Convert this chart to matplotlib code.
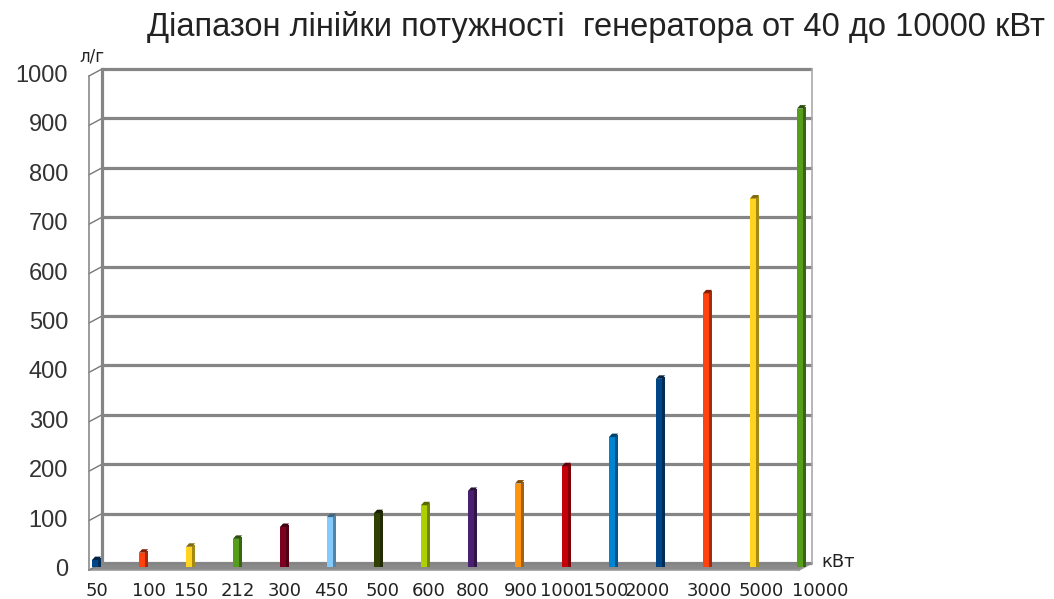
import matplotlib
matplotlib.use('Agg')
import matplotlib.pyplot as plt
import matplotlib.colors as mc

categories = ['50', '100', '150', '212', '300', '450', '500', '600', '800', '900',
              '1000', '1500', '2000', '3000', '5000', '10000']
values = [13, 28, 40, 56, 80, 100, 108, 124, 153, 168, 203, 262, 380, 553, 745, 927]
colors = ['#004586', '#ff420e', '#ffd320', '#579d1c', '#7e0021', '#83caff', '#314004',
          '#aecf00', '#4b1f6f', '#ff950e', '#c5000b', '#0084d1', '#004586', '#ff420e',
          '#ffd320', '#579d1c']
y_ticks = [0, 100, 200, 300, 400, 500, 600, 700, 800, 900, 1000]
title = 'Діапазон лінійки потужності  генератора от 40 до 10000 кВт'
y_unit = 'л/г'
x_unit = 'кВт'

# layout: horizontal nudges (pixels) of the category labels, as placed in the original
label_nudge_px = [0, 5, 1, 0, 0, 0, 4, 3, 0, 1, -4, -8, -13, 2, 7, 19]

W, H = 1054, 599
fig = plt.figure(figsize=(W / 100, H / 100), dpi=100)
fig.patch.set_facecolor('white')

# back wall in pixels
L, R, T, B = 102, 812, 69, 563
step = 47.0
x0 = 103
ax = fig.add_axes([L / W, 1 - B / H, (R - L) / W, (B - T) / H])
xmin, xmax = (L - x0) / step, (R - x0) / step
ax.set_xlim(xmin, xmax)
ax.set_ylim(0, 1000)
ax.axis('off')

ppu = (B - T) / 1000.0  # pixels per value unit
DX = -13 / step
DY = -7 / ppu
MX, MY = DX / 2, DY / 2

grid_c = '#858585'
# floor
ax.fill([xmin, xmax, xmax + DX, xmin + DX], [0, 0, DY, DY], color='#8a8a8a',
        clip_on=False, zorder=1, lw=0)
ax.plot([xmin + DX, xmax + DX], [DY, DY], color='#9a9a9a', lw=1.2, clip_on=False, zorder=1)
ax.plot([xmax, xmax + DX], [0, DY], color='#9a9a9a', lw=1.2, clip_on=False, zorder=1)

# gridlines on back wall
for t in y_ticks:
    ax.plot([xmin, xmax], [t, t], color=grid_c, lw=2.3, clip_on=False, zorder=1,
            solid_capstyle='butt')
    ax.plot([xmin + DX, xmin], [t + DY, t], color='#777777', lw=1.0, clip_on=False, zorder=1)

# walls
ax.plot([xmin, xmin], [0, 1000], color=grid_c, lw=2.3, clip_on=False, zorder=1)
ax.plot([xmin + DX, xmin + DX], [DY, 1000 + DY], color='#8a8a8a', lw=1.2, clip_on=False, zorder=1)
ax.plot([xmax, xmax], [0, 1000], color='#aaaaaa', lw=1.2, clip_on=False, zorder=1)


def darker(c, f=0.65):
    r, g, b = mc.to_rgb(c)
    return (r * f, g * f, b * f)


# bars (3D-ish: front face + darker side + top)
fw = 0.13
sw = 0.065
for i, (v, c) in enumerate(zip(values, colors)):
    xc = i + MX
    ax.bar(xc - 0.097 + fw / 2, v, width=fw, bottom=MY, color=c, lw=0, zorder=3, clip_on=False)
    ax.bar(xc + 0.033 + sw / 2, v + 4, width=sw, bottom=MY, color=darker(c), lw=0,
           zorder=3, clip_on=False)
    ax.fill([xc - 0.097, xc + 0.033, xc + 0.098, xc - 0.03],
            [v + MY, v + MY, v + MY + 7, v + MY + 7],
            color=darker(c, 0.5), lw=0, zorder=3, clip_on=False)

# y tick labels
for t in y_ticks:
    ax.text(xmin + DX - 21 / step, t + DY, str(t), ha='right', va='center',
            fontsize=17, family='Liberation Sans', color='#333333', clip_on=False)

# x tick labels
for i, lab in enumerate(categories):
    ax.text(i + MX + label_nudge_px[i] / step, -57, lab, ha='center', va='center',
            fontsize=13, family='DejaVu Sans', color='#222222', clip_on=False)

ax.text(-0.234, 1026, y_unit, ha='center', va='center', fontsize=12,
        family='DejaVu Sans', color='#222222', clip_on=False)
ax.text(15.64, 2, x_unit, ha='center', va='center', fontsize=13,
        family='DejaVu Sans', color='#222222', clip_on=False)

fig.text(596 / W, 1 - 27 / H, title, ha='center', va='center', fontsize=23.5,
         family='Liberation Sans', color='#222222')

fig.savefig('out.png', dpi=100)
